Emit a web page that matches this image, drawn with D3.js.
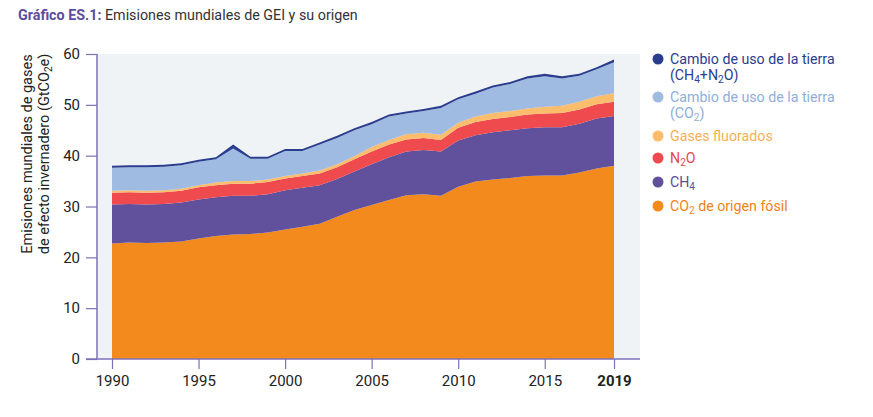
<!DOCTYPE html>
<html>
<head>
<meta charset="utf-8">
<script src="https://cdn.jsdelivr.net/npm/d3@7"></script>
<style>
  body { margin: 0; background: #fff; }
  text { font-family: Roboto, "Noto Sans", sans-serif; }
</style>
</head>
<body>
<script>
// valores (GtCO2e)
const years = d3.range(1990, 2020);
const fossilCO2 = [22.7, 22.9, 22.8, 22.9, 23.1, 23.7, 24.2, 24.5, 24.6, 24.9,
  25.5, 26.0, 26.6, 28.0, 29.3, 30.3, 31.3, 32.2, 32.4, 32.1,
  33.9, 34.9, 35.3, 35.6, 36.0, 36.1, 36.1, 36.7, 37.5, 38.0];
const ch4 = [7.7, 7.6, 7.6, 7.6, 7.7, 7.7, 7.6, 7.6, 7.5, 7.5,
  7.7, 7.7, 7.6, 7.4, 7.6, 8.0, 8.4, 8.6, 8.7, 8.7,
  9.1, 9.1, 9.3, 9.4, 9.4, 9.5, 9.5, 9.6, 9.8, 9.8];
const n2o = [2.3, 2.3, 2.3, 2.3, 2.3, 2.4, 2.4, 2.4, 2.4, 2.4,
  2.3, 2.3, 2.3, 2.3, 2.4, 2.5, 2.5, 2.4, 2.4, 2.3,
  2.5, 2.6, 2.6, 2.6, 2.7, 2.7, 2.8, 2.8, 2.8, 2.8];
const fGases = [0.4, 0.4, 0.4, 0.4, 0.4, 0.4, 0.5, 0.5, 0.5, 0.5,
  0.5, 0.5, 0.6, 0.6, 0.6, 0.9, 0.9, 1.0, 1.0, 1.0,
  1.0, 1.1, 1.2, 1.2, 1.2, 1.3, 1.4, 1.5, 1.6, 1.7];
const lucCO2 = [4.5, 4.5, 4.6, 4.6, 4.6, 4.6, 4.6, 6.4, 4.4, 4.1,
  4.9, 4.4, 5.1, 5.2, 5.1, 4.5, 4.6, 4.1, 4.3, 5.3,
  4.6, 4.5, 5.0, 5.3, 5.9, 6.0, 5.4, 5.1, 5.3, 6.1];
const lucOther = [0.4, 0.4, 0.4, 0.4, 0.4, 0.4, 0.4, 0.8, 0.4, 0.4,
  0.4, 0.4, 0.4, 0.4, 0.4, 0.4, 0.4, 0.4, 0.4, 0.4,
  0.4, 0.4, 0.4, 0.4, 0.4, 0.5, 0.4, 0.4, 0.4, 0.5];
const yTicks = [0, 10, 20, 30, 40, 50, 60];
const xTicks = [1990, 1995, 2000, 2005, 2010, 2015, 2019];

const series = [
  { key: "fossil", values: fossilCO2, color: "#f28a1e", text: "#f0821a", label: [["CO", ""], ["2", "sub"], [" de origen fósil", ""]] },
  { key: "ch4", values: ch4, color: "#61519c", text: "#5c4c99", label: [["CH", ""], ["4", "sub"]] },
  { key: "n2o", values: n2o, color: "#ef4b4f", text: "#e9474b", label: [["N", ""], ["2", "sub"], ["O", ""]] },
  { key: "fgas", values: fGases, color: "#fdbd6c", text: "#f8b055", label: [["Gases fluorados", ""]] },
  { key: "luc", values: lucCO2, color: "#a0bbe2", text: "#8eaedb", label: [["Cambio de uso de la tierra", ""], ["(CO", "br"], ["2", "sub"], [")", ""]] },
  { key: "lucother", values: lucOther, color: "#2b3d8e", text: "#2b3d8e", label: [["Cambio de uso de la tierra", ""], ["(CH", "br"], ["4", "sub"], ["+N", ""], ["2", "sub"], ["O)", ""]] }
];

const rows = years.map((y, i) => {
  const r = { year: y };
  series.forEach(s => r[s.key] = s.values[i]);
  return r;
});

const svg = d3.select("body").append("svg")
  .attr("width", 873)
  .attr("height", 417);

const x = d3.scaleLinear().domain([1990, 2019]).range([112, 614]);
const y = d3.scaleLinear().domain([0, 60]).range([359, 54]);

// fondo del área de trazado
svg.append("rect")
  .attr("x", 97).attr("y", 54)
  .attr("width", 543).attr("height", 305)
  .attr("fill", "#eff3f5");

const stack = d3.stack().keys(series.map(s => s.key));
const stacked = stack(rows);

const area = d3.area()
  .x(d => x(d.data.year))
  .y0(d => y(d[0]))
  .y1(d => y(d[1]));

svg.append("g")
  .selectAll("path")
  .data(stacked)
  .enter().append("path")
  .attr("d", area)
  .attr("fill", (d, i) => series[i].color);

// ejes
const axisColor = "#7c72b8";
const yAxis = svg.append("g")
  .attr("transform", "translate(97,0)")
  .call(d3.axisLeft(y).tickValues(yTicks).tickSize(11).tickPadding(6));
yAxis.select(".domain").remove();
yAxis.append("line")
  .attr("x1", 0).attr("x2", 0)
  .attr("y1", y(60)).attr("y2", y(0) + 0.5)
  .attr("stroke", axisColor).attr("stroke-width", 1.5);

const xAxis = svg.append("g")
  .attr("transform", "translate(0,359)")
  .call(d3.axisBottom(x).tickValues(xTicks).tickFormat(d3.format("d")).tickSize(10).tickPadding(6));
xAxis.select(".domain").remove();
xAxis.append("line")
  .attr("x1", 86).attr("x2", 640)
  .attr("stroke", axisColor).attr("stroke-width", 1.5);

svg.selectAll(".tick line").attr("stroke", axisColor).attr("stroke-width", 1.2);
svg.selectAll(".tick text")
  .attr("fill", "#222")
  .style("font-size", "15px")
  .style("font-family", "Roboto, sans-serif");
xAxis.selectAll(".tick text")
  .filter(d => d === 2019)
  .style("font-weight", "bold");

// título del eje y
const yTitle = svg.append("text")
  .attr("transform", "translate(32,154) rotate(-90)")
  .attr("text-anchor", "middle")
  .attr("fill", "#222")
  .style("font-size", "14.5px");
yTitle.append("tspan").attr("x", 0).attr("dy", 0).text("Emisiones mundiales de gases");
const l2 = yTitle.append("tspan").attr("x", 0).attr("dy", 17).text("de efecto invernadero (GtCO");
l2.append("tspan").attr("dy", 3).style("font-size", "10px").text("2");
l2.append("tspan").attr("dy", -3).text("e)");

// título
const title = svg.append("text")
  .attr("x", 18).attr("y", 20)
  .style("font-size", "14.3px");
title.append("tspan").attr("fill", "#5b4e9e").style("font-weight", "bold").text("Gráfico ES.1:");
title.append("tspan").attr("fill", "#333").text(" Emisiones mundiales de GEI y su origen");

// leyenda
const legendY = { lucother: 59, luc: 97, fgas: 136, n2o: 158, ch4: 182, fossil: 206 };
const legend = svg.append("g");
series.slice().reverse().forEach(s => {
  const cy = legendY[s.key];
  legend.append("circle")
    .attr("cx", 658).attr("cy", cy).attr("r", 5.5)
    .attr("fill", s.color);
  const t = legend.append("text")
    .attr("x", 670).attr("y", cy + 5)
    .attr("fill", s.text)
    .style("font-size", "14.2px");
  let sub = false;
  s.label.forEach(([txt, kind]) => {
    const sp = t.append("tspan").text(txt);
    if (kind === "br") {
      sp.attr("x", 670).attr("dy", sub ? 13 : 16);
      sub = false;
    } else if (kind === "sub") {
      sp.attr("dy", 3).style("font-size", "10px");
      sub = true;
    } else if (sub) {
      sp.attr("dy", -3);
      sub = false;
    }
  });
});
</script>
</body>
</html>
